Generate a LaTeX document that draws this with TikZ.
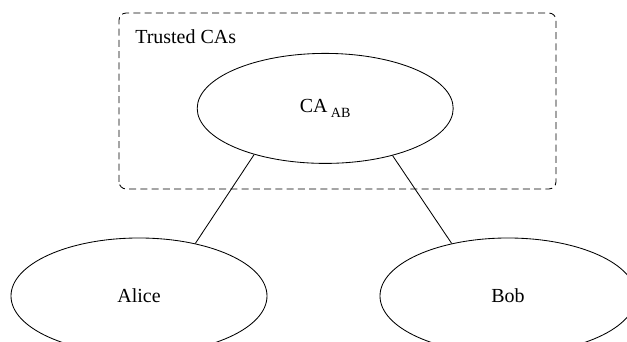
\documentclass[tikz,border=0pt]{standalone}
\usepackage{fontspec}
\setmainfont{Liberation Serif}
\usetikzlibrary{shapes.geometric}

\begin{document}
\begin{tikzpicture}[
        party/.style={draw, ellipse, line width=0.6pt, inner sep=0pt, minimum width=6.4cm},
        every node/.style={font=\fontsize{14.2}{17}\selectfont}
    ]
        % Fix the canvas
        \useasboundingbox (0,0) rectangle (15.675,8.55);

        % Draw the trusted region
        \draw[dashed, dash pattern=on 5pt off 3pt, line width=0.6pt, rounded corners=0.18cm] (2.975,3.825) rectangle (13.9,8.225);
        \node[anchor=west, inner sep=0pt] (trusted) at (3.375,7.625) {Trusted CAs};

        % Draw the CA and the two parties
        \node[party, minimum height=2.75cm] (ca) at (8.13,5.84) {CA\,\raisebox{-0.45ex}{\fontsize{10}{12}\selectfont AB}};
        \node[party, minimum height=2.9cm] (alice) at (3.475,1.15) {Alice};
        \node[party, minimum height=2.9cm] (bob) at (12.7,1.15) {Bob};

        % Draw links
        \draw[line width=0.6pt] (ca.213) -- (alice.43); % CA to Alice
        \draw[line width=0.6pt] (ca.325) -- (bob.137); % CA to Bob

    \end{tikzpicture}
\end{document}
